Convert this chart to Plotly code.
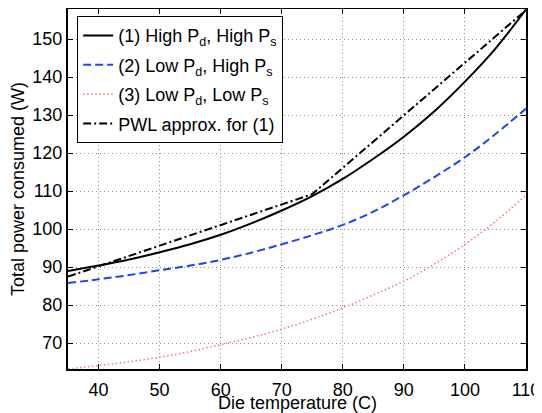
import plotly.graph_objects as go

temps = [35, 40, 45, 50, 55, 60, 65, 70, 75, 80, 85, 90, 95, 100, 105, 110]
high_pd_high_ps = [89.0, 90.4, 92.0, 93.9, 96.0, 98.5, 101.5, 104.9, 108.7, 113.2, 118.5, 124.3, 131.0, 138.8, 147.5, 157.8]
low_pd_high_ps = [85.8, 86.8, 87.9, 89.2, 90.4, 91.9, 93.8, 96.0, 98.4, 101.1, 104.6, 108.9, 113.7, 118.9, 125.0, 131.7]
low_pd_low_ps = [63.2, 64.1, 65.1, 66.3, 67.8, 69.6, 71.5, 73.7, 76.3, 79.3, 82.7, 86.3, 90.8, 96.0, 102.0, 108.9]
pwl_temps = [35, 75, 110]
pwl_power = [87.5, 109.2, 157.6]

x_ticks = [40, 50, 60, 70, 80, 90, 100, 110]
y_ticks = [70, 80, 90, 100, 110, 120, 130, 140, 150]

FONT = "Liberation Sans, Arial, Helvetica, sans-serif"

fig = go.Figure()
fig.add_trace(go.Scatter(x=temps, y=high_pd_high_ps, mode="lines", line_shape="spline",
                         name="(1) High P<sub>d</sub>, High P<sub>s</sub>", legendgroup="a",
                         line=dict(color="black", width=2)))
fig.add_trace(go.Scatter(x=temps, y=low_pd_high_ps, mode="lines", line_shape="spline",
                         name="(2) Low P<sub>d</sub>, High P<sub>s</sub>", legendgroup="b",
                         line=dict(color="#1f45fc", width=2, dash="8px,4px")))
fig.add_trace(go.Scatter(x=temps, y=low_pd_low_ps, mode="lines", line_shape="spline",
                         name="(3) Low P<sub>d</sub>, Low P<sub>s</sub>", legendgroup="c",
                         line=dict(color="#f47a6a", width=1.5, dash="1.5px,2.5px")))
fig.add_trace(go.Scatter(x=pwl_temps, y=pwl_power, mode="lines",
                         name="PWL approx. for (1)", legendgroup="d",
                         line=dict(color="black", width=2, dash="8px,3px,2px,3px")))

axis_common = dict(
    showline=True, linecolor="black", linewidth=2, mirror="ticks",
    ticks="inside", ticklen=5, tickcolor="black", tickwidth=1,
    showgrid=True, gridcolor="#8c8c8c", gridwidth=1, griddash="1px,3px",
    zeroline=False, automargin=False,
    tickfont=dict(family=FONT, size=18, color="black"),
)

fig.update_xaxes(range=[35, 110], tickvals=x_ticks, ticklabelstandoff=3, **axis_common)
fig.update_yaxes(range=[63.2, 157.9], tickvals=y_ticks, **axis_common)

# the page body adds an 8px offset, so the figure is sized to fill the rest
fig.update_layout(
    width=534, height=405,
    margin=dict(l=60, r=16, t=1, b=44),
    plot_bgcolor="white", paper_bgcolor="white",
    font=dict(family=FONT, size=18, color="black"),
    legend=dict(x=0.02, y=0.98, xanchor="left", yanchor="top",
                bgcolor="white", bordercolor="black", borderwidth=1,
                font=dict(family=FONT, size=18, color="black"),
                tracegroupgap=3, itemwidth=30),
    showlegend=True,
    annotations=[
        dict(text="Die temperature (C)", xref="paper", yref="paper", x=0.5, y=-0.094,
             xanchor="center", yanchor="middle", showarrow=False,
             font=dict(family=FONT, size=18, color="black")),
        dict(text="Total power consumed (W)", xref="paper", yref="paper", x=-0.109, y=0.5,
             xanchor="center", yanchor="middle", textangle=-90, showarrow=False,
             font=dict(family=FONT, size=18, color="black")),
    ],
)

fig.write_html("out.html")
